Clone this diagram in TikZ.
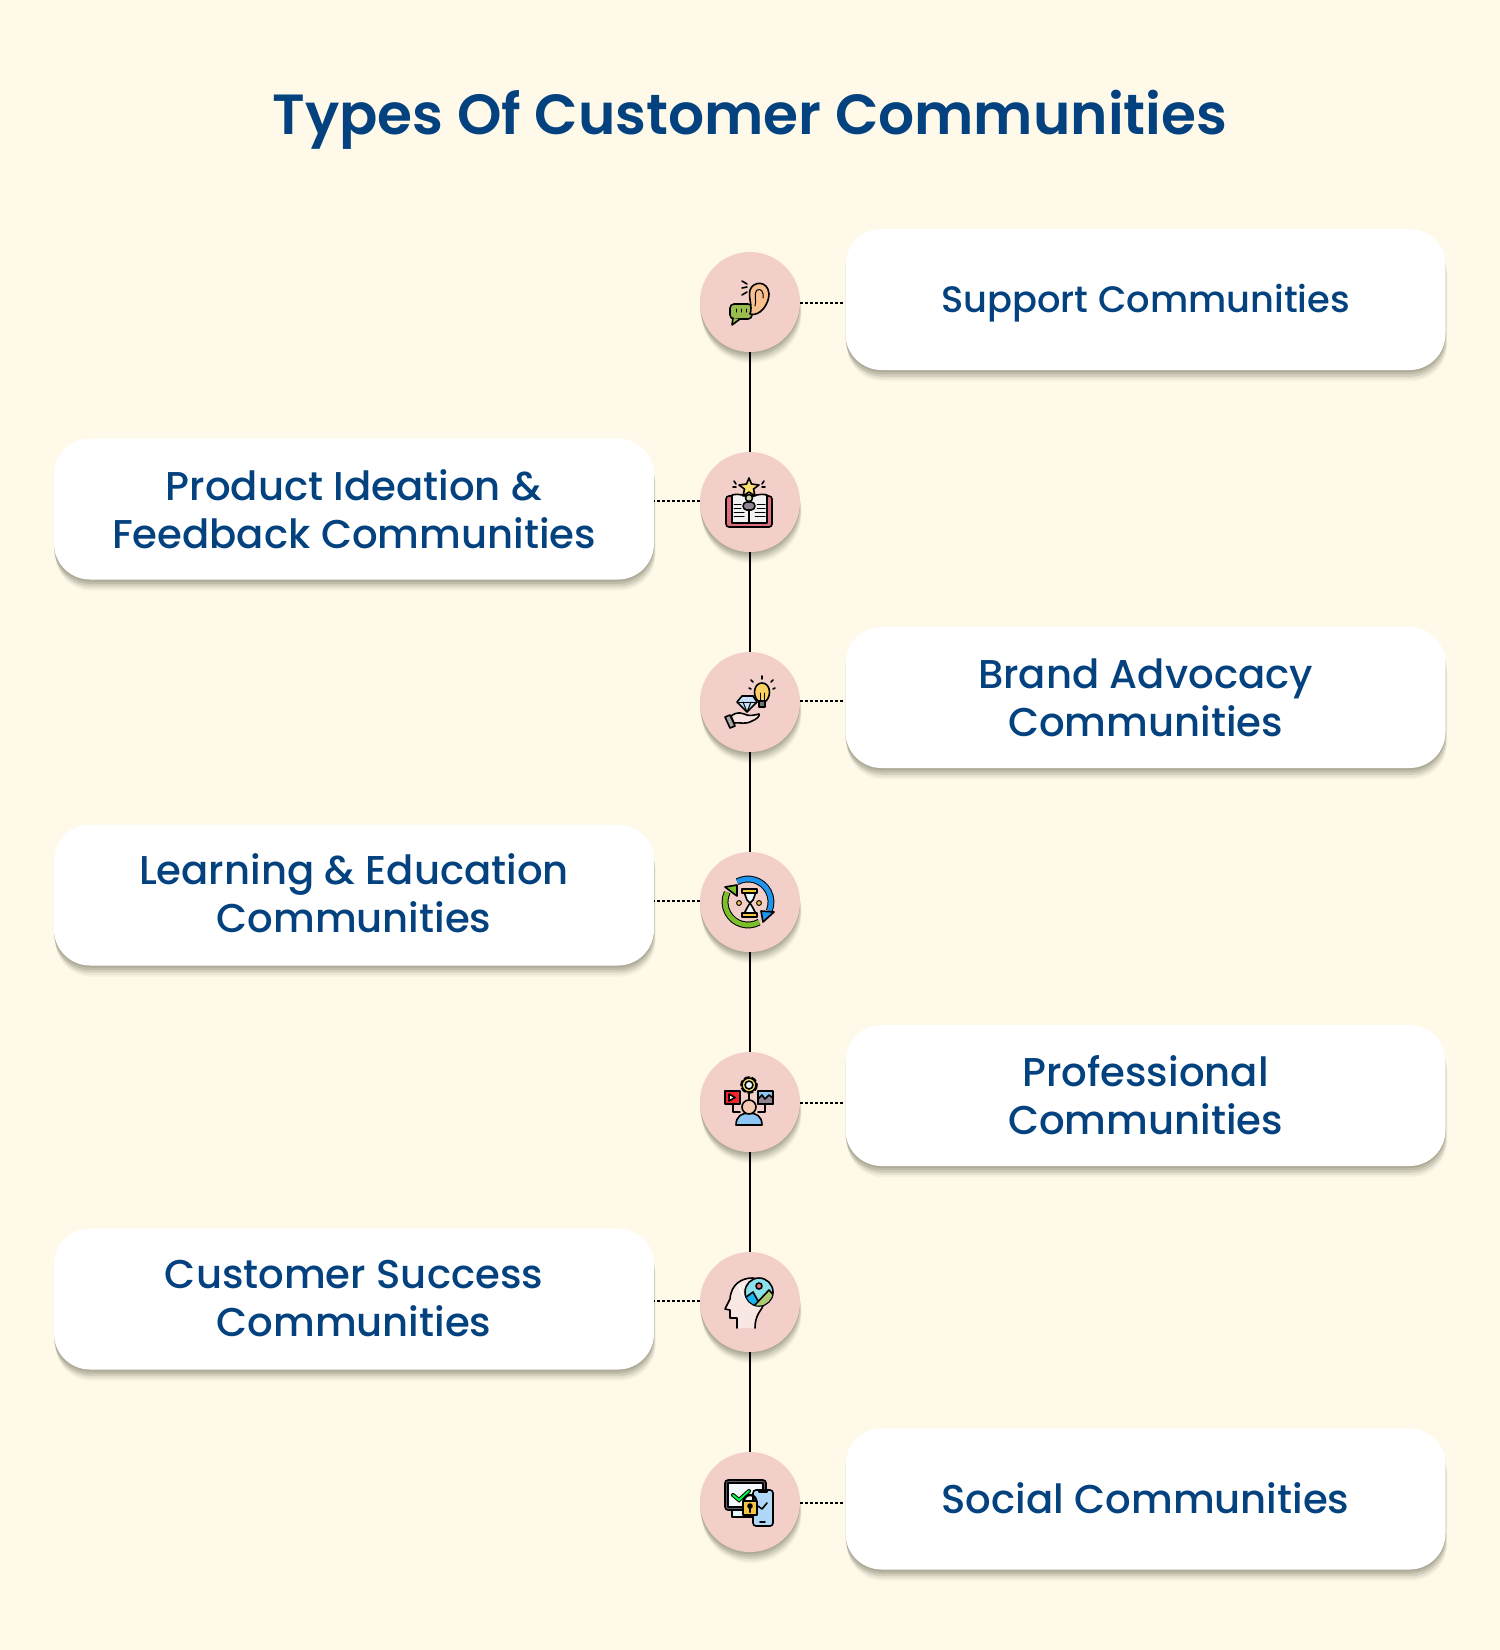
\documentclass[tikz,border=0pt]{standalone}
\usepackage{fontspec}
\setmainfont{Poppins}[UprightFont=* Medium,BoldFont=* SemiBold]
\usetikzlibrary{shadows}
\definecolor{bgcol}{HTML}{FFF9EA}
\definecolor{navy}{HTML}{03427E}
\definecolor{rosy}{HTML}{F3CFCA}
\definecolor{shadecol}{HTML}{6E6E58}
\definecolor{icored}{HTML}{DC6E7C}
\definecolor{icoyellow}{HTML}{F8DF6E}
\definecolor{icogold}{HTML}{F7C63F}
\definecolor{icoolive}{HTML}{9ABB4E}
\definecolor{icoblue}{HTML}{8CC6F5}
\definecolor{icosky}{HTML}{1E96EE}
\definecolor{icopeach}{HTML}{F9C08F}
\definecolor{icoteal}{HTML}{8BE0EA}
\definecolor{icogrey}{HTML}{8F8494}
\definecolor{icogreen}{HTML}{7CBF2A}
\tikzset{
softshade/.style={general shadow={fill=shadecol,opacity=.2,shadow xshift=0pt,shadow yshift=-1pt},general shadow={fill=shadecol,opacity=.2,shadow xshift=0pt,shadow yshift=-2.2pt},general shadow={fill=shadecol,opacity=.16,shadow xshift=.4pt,shadow yshift=-3.4pt},general shadow={fill=shadecol,opacity=.1,shadow xshift=.6pt,shadow yshift=-4.6pt},general shadow={fill=shadecol,opacity=.06,shadow xshift=.8pt,shadow yshift=-5.6pt}},
round/.style={circle,fill=rosy,minimum size=50pt,inner sep=0pt,softshade},
card/.style={rectangle,rounded corners=18pt,fill=white,minimum width=300pt,minimum height=70.5pt,inner sep=0pt,softshade,text=navy,align=center,font=\fontsize{20.1}{24}\selectfont},
stem/.style={draw=black,line width=1pt},
dotline/.style={draw=black,line width=1pt,dash pattern=on 1.5pt off 1pt},
ink/.style={draw=black,line width=.8pt,line join=round,line cap=round},
thin ink/.style={draw=black,line width=.5pt,line join=round,line cap=round}
}
\begin{document}
\begin{tikzpicture}[x=.5pt,y=-.5pt]
\useasboundingbox (0,0) rectangle (1500,1650);
\fill[bgcol] (0,0) rectangle (1500,1650);
\node[text=navy,font=\fontsize{28.3}{34}\selectfont\bfseries] (title) at (750,120){Types Of Customer Communities};
\node[card] (sup) at (1145.5,299.5){\raisebox{-6.5pt}[0pt][0pt]{\fontsize{18.4}{24}\selectfont Support Communities}};
\node[card] (prod) at (354,509){Product Ideation \&\\Feedback Communities};
\node[card] (brand) at (1145.5,697.5){Brand Advocacy\\Communities};
\node[card] (learn) at (354,895){Learning \& Education\\Communities\rule[-1.6pt]{0pt}{1.6pt}};
\node[card] (prof) at (1145.5,1095.5){Professional\\Communities\rule[-1pt]{0pt}{1pt}};
\node[card] (succ) at (354,1299){Customer Success\\Communities};
\node[card] (soc) at (1145.5,1499){\raisebox{-7.1pt}[0pt][0pt]{Social Communities}};
\node[round] (ear) at (750,302){};
\node[round] (book) at (750,502){};
\node[round] (gem) at (750,702){};
\node[round] (glass) at (750,902){};
\node[round] (gear) at (750,1102){};
\node[round] (head) at (750,1302){};
\node[round] (lock) at (750,1502){};
\draw[stem] (ear)--(book);\draw[stem] (book)--(gem);\draw[stem] (gem)--(glass);\draw[stem] (glass)--(gear);\draw[stem] (gear)--(head);\draw[stem] (head)--(lock);
\draw[dotline] ([yshift=-.5pt]ear.east)--([yshift=-.5pt]ear.east -| sup.west);\draw[dotline] ([yshift=.5pt]book.west)--([yshift=.5pt]book.west -| prod.east);\draw[dotline] ([yshift=.5pt]gem.east)--([yshift=.5pt]gem.east -| brand.west);\draw[dotline] ([yshift=.5pt]glass.west)--([yshift=.5pt]glass.west -| learn.east);\draw[dotline] ([yshift=-.5pt]gear.east)--([yshift=-.5pt]gear.east -| prof.west);\draw[dotline] ([yshift=.5pt]head.west)--([yshift=.5pt]head.west -| succ.east);\draw[dotline] ([yshift=-.5pt]lock.east)--([yshift=-.5pt]lock.east -| soc.west);
\begin{scope}[shift={(ear.center)}]
\draw[ink,fill=icoolive,rounded corners=2pt] (-20,2) rectangle (2,17);
\draw[ink,fill=icoolive] (-17,16)--(-18,23)--(-10,17);
\draw[thin ink] (-14,7) arc (-30:30:3);\draw[thin ink] (-9,7) arc (-30:30:3);\draw[thin ink] (-4,7) arc (-30:30:3);
\draw[ink,fill=icopeach] (0,12) .. controls (3,4) and (-2,-4) .. (0,-12) .. controls (3,-21) and (18,-22) .. (19,-8) .. controls (19,2) and (10,15) .. (0,12) -- cycle;
\draw[thin ink] (5,4) .. controls (7,-2) and (3,-8) .. (7,-12) .. controls (11,-14) and (14,-10) .. (13,-4);
\draw[ink] (-8,-21)--(-3,-18);\draw[ink] (-8,-14)--(-3,-15);\draw[ink] (-8,-7)--(-3,-10);
\end{scope}
\begin{scope}[shift={(book.center)}]
\draw[ink,fill=icored,rounded corners=1.5pt] (-24,-6) rectangle (22,25);
\draw[ink,fill=white!95!black] (-18,-7) .. controls (-10,-9) and (-4,-6) .. (-1,-4) .. controls (3,-6) and (9,-9) .. (17,-7)--(17,21)--(-1,21)--(-18,21)--cycle;
\draw[thin ink] (-16,2)--(-9,2);\draw[thin ink] (-16,6)--(-9,6);\draw[thin ink] (-16,10)--(-6,10);\draw[thin ink] (-16,14)--(-6,14);\draw[thin ink] (7,2)--(15,2);\draw[thin ink] (7,6)--(15,6);\draw[thin ink] (5,10)--(15,10);\draw[thin ink] (5,14)--(15,14);
\draw[ink] (-1,8)--(-1,21);
\draw[ink,fill=icogrey,rounded corners=2pt] (-7,0) rectangle (5,8);
\draw[ink,fill=icoolive!50!white] (-1,-4) circle (3.5);
\draw[ink,fill=icoyellow] (-1,-24)--(1.5,-18)--(9,-17)--(3.5,-13)--(5,-6)--(-1,-10)--(-7,-6)--(-5.5,-13)--(-11,-17)--(-3.5,-18)--cycle;
\draw[ink] (-16,-21)--(-14,-18);\draw[ink] (-17,-15)--(-14,-15);\draw[ink] (14,-21)--(12,-18);\draw[ink] (15,-15)--(12,-15);
\end{scope}
\begin{scope}[shift={(gem.center)}]
\draw[ink,fill=icoblue!50!white] (-8,-6)--(3,-6)--(7,0)--(-3,10)--(-13,0)--cycle;
\draw[thin ink] (-13,0)--(7,0);\draw[thin ink] (-7,0)--(-3,10)--(1,0);
\draw[ink,fill=icogold!80!white] (8,-1) .. controls (2,-7) and (4,-19) .. (12,-19) .. controls (20,-19) and (22,-7) .. (16,-1)--cycle;
\draw[ink,fill=black!55] (9,-1) rectangle (15,5);
\draw[thin ink] (10,-1)--(10,-9);\draw[thin ink] (14,-1)--(14,-9);
\draw[ink] (12,-23)--(12,-26);\draw[ink] (3,-20)--(1,-22);\draw[ink] (21,-20)--(23,-22);\draw[ink] (-1,-14)--(1,-13);\draw[ink] (25,-14)--(23,-13);
\draw[ink,fill=rosy!60!white] (-19,14) .. controls (-12,9) and (-9,11) .. (-3,13) .. controls (0,14) and (5,13) .. (9,12) .. controls (10,14) and (7,17) .. (2,19) .. controls (-5,23) and (-10,20) .. (-16,21)--cycle;
\draw[ink,fill=black!35] (-25,15)--(-20,13)--(-15,24)--(-20,26)--cycle;
\end{scope}
\begin{scope}[shift={(glass.center)}]
\draw[draw=black,line width=3.4pt] (-12.8,-20.3) arc (-118:22:23);
\draw[draw=icosky,line width=2.4pt] (-12.8,-20.3) arc (-118:22:23);
\draw[ink,fill=icosky] (24,10)--(11,9)--(13,20)--cycle;
\draw[draw=black,line width=3.4pt] (9.15,20.1) arc (61:205:23);
\draw[draw=icogreen,line width=2.4pt] (9.15,20.1) arc (61:205:23);
\draw[ink,fill=icogreen] (-25,-15)--(-13,-17)--(-13,-6)--cycle;
\draw[ink,fill=white!85!icoteal] (-6,-10)--(6,-10)--(3,-2)--(0,1)--(-3,-2)--cycle;
\draw[ink,fill=white!85!icoteal] (0,1)--(3,6)--(6,12)--(-6,12)--(-3,6)--cycle;
\draw[ink,fill=icogold] (-8,-13) rectangle (7,-9);\draw[ink,fill=icogold] (-8,11) rectangle (7,15);
\draw[thin ink,fill=icogold] (-11,1) circle (2.4);\draw[thin ink,fill=icogold] (9,1) circle (2.4);
\end{scope}
\begin{scope}[shift={(gear.center)}]
\draw[ink] (-17,2)--(-17,10)--(-10,10);\draw[ink] (15,2)--(15,10)--(8,10);\draw[ink] (-1,-8)--(-1,-2);
\draw[draw=black,fill=icoyellow,line width=.8pt,dash pattern=on 3pt off 1pt] (-1,-17) circle (8);
\draw[ink,fill=icoyellow] (-1,-17) circle (7);
\draw[ink,fill=white!80!icoblue] (-1,-17) circle (4);
\draw[ink,fill=red!65!icored] (-25,-11) rectangle (-10,2);
\draw[ink,fill=white] (-21,-8)--(-21,-1)--(-15,-4.5)--cycle;
\draw[ink,fill=icoblue] (8,-11) rectangle (23,2);
\draw[ink,fill=icogrey] (8,2)--(8,-3)--(12,-7)--(15,-3)--(19,-7)--(23,-4)--(23,2)--cycle;
\draw[ink,fill=icoblue] (-14,23) .. controls (-14,14) and (-8,11) .. (-1,11) .. controls (6,11) and (12,14) .. (12,23)--cycle;
\draw[ink,fill=icopeach!40!rosy] (-1,5) circle (7);
\end{scope}
\begin{scope}[shift={(head.center)}]
\draw[ink,fill=rosy!50!white] (-13,26)--(-13,16)--(-20,16)--(-20,8)--(-25,7)--(-20,-3) .. controls (-19,-18) and (-8,-24) .. (2,-24) .. controls (12,-24) and (18,-12) .. (14,2) .. controls (12,8) and (5,12) .. (5,26);
\draw[white,line width=.7pt] (-11,-17) .. controls (-9,-8) and (-4,-1) .. (4,1);\draw[white,line width=.7pt] (-7,-19) .. controls (-5,-10) and (0,-4) .. (6,-3);
\draw[ink,fill=icoteal] (9,-10) circle (14);
\begin{scope}
\clip (9,-10) circle (13.5);
\draw[ink,fill=icosky!70!cyan] (-8,-2)--(3,-10)--(12,6)--(-2,8)--cycle;
\draw[ink,fill=icoolive!80!white] (2,6)--(19,-12)--(28,-2)--(16,10)--cycle;
\end{scope}
\draw[ink,fill=red!45!rosy] (9,-16) circle (3);
\end{scope}
\begin{scope}[shift={(lock.center)}]
\draw[ink,fill=white!90!cyan] (-18,8)--(-18,15)--(2,15)--(2,8)--cycle;
\draw[ink,fill=icogrey!70!black,rounded corners=1.5pt] (-25,-22) rectangle (16,8);
\draw[ink,fill=white!90!icoblue] (-22,-19) rectangle (13,5);
\draw[draw=black,line width=2pt,line cap=round] (-17,-7)--(-11,-2)--(-1,-11);
\draw[draw=green!75!cyan,line width=1pt,line cap=round] (-17,-7)--(-11,-2)--(-1,-11);
\draw[ink,fill=icoblue!70!white,rounded corners=1.5pt] (3,-12) rectangle (23,24);
\draw[ink,fill=black] (9,-12) rectangle (17,-10);
\draw[ink] (8,4)--(12,7)--(17,1);\draw[ink] (10,20)--(15,20);
\draw[ink,line width=1.2pt] (-6,-1) arc (180:360:6);
\draw[ink,fill=icogold] (-7,-1) rectangle (7,13);
\draw[ink,fill=black] (0,4) circle (2);\draw[ink,line width=1pt] (0,5)--(0,10);
\end{scope}
\end{tikzpicture}
\end{document}
